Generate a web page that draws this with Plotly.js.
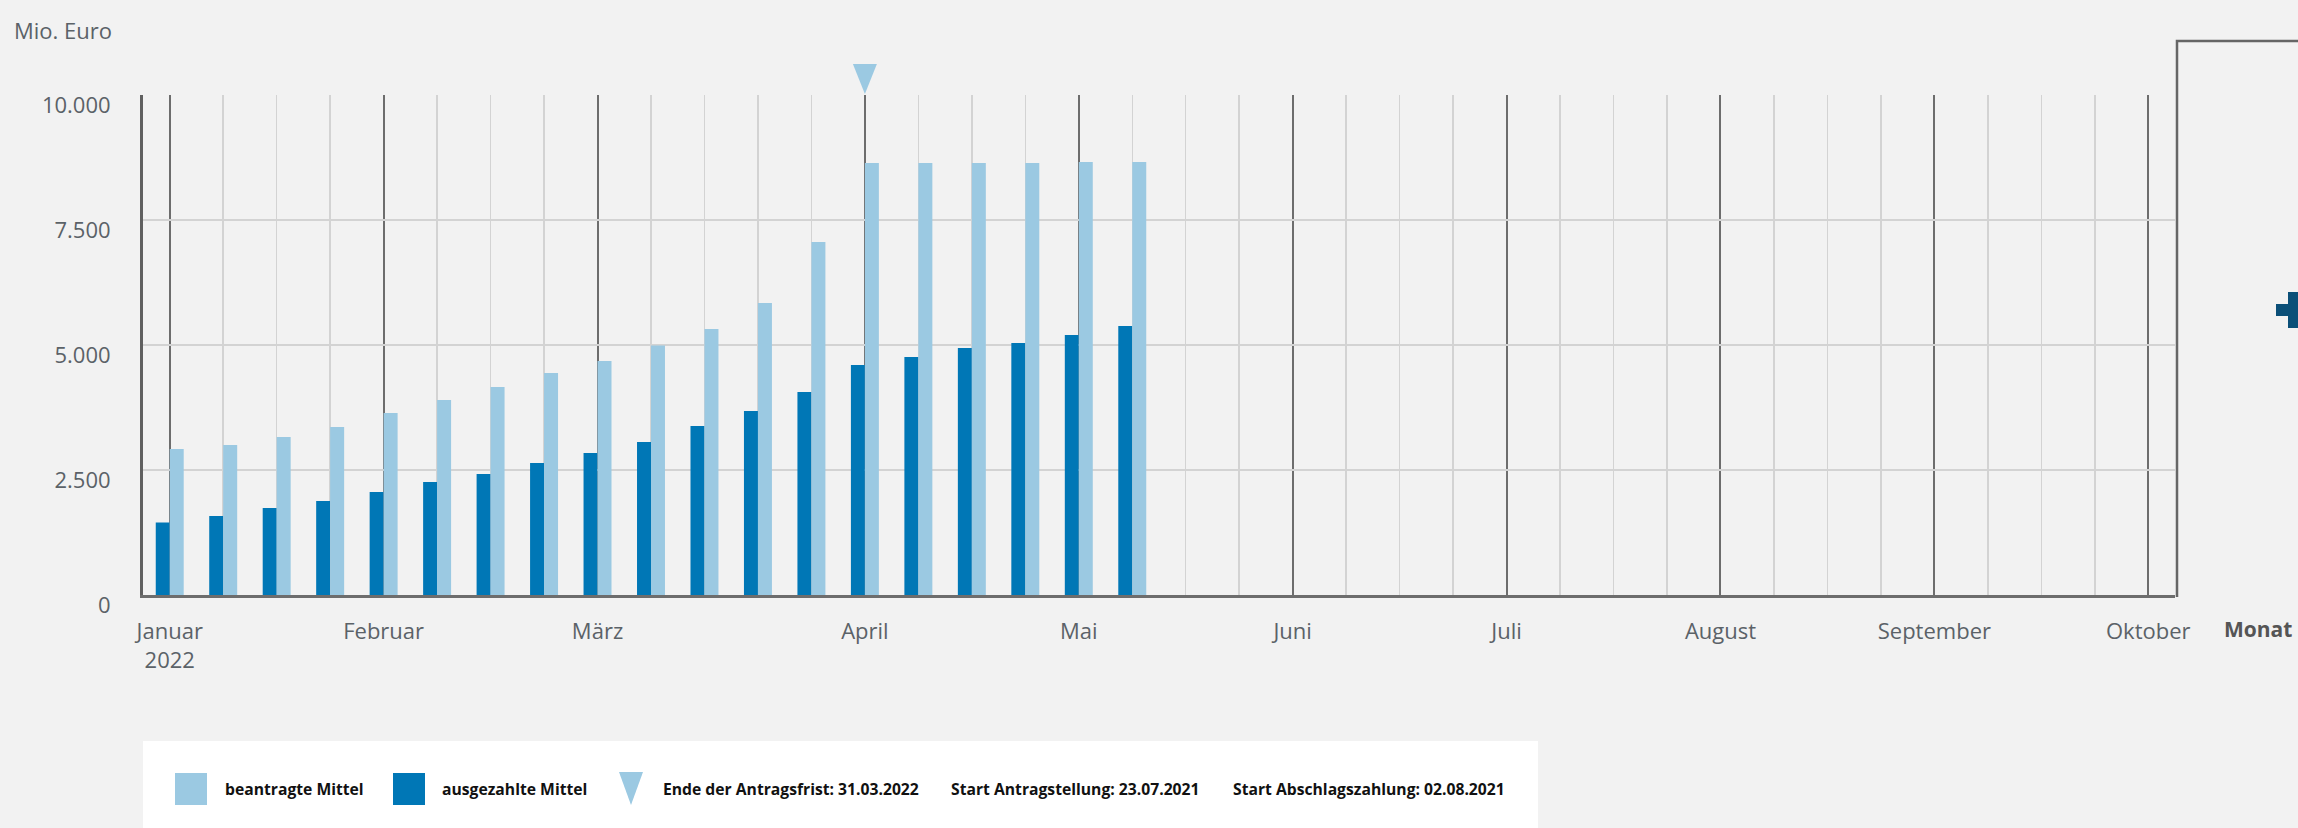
<!DOCTYPE html>
<html>
<head>
<meta charset="utf-8">
<script src="https://cdn.plot.ly/plotly-3.0.1.min.js"></script>
<style>
html,body{margin:0;padding:0;background:#f2f2f2;}
#chart{width:2298px;height:828px;}
</style>
</head>
<body>
<div id="chart"></div>
<script>
// ---- data ----
// week index (0 = first week of January 2022), one bar pair per week
const weeks = [0,1,2,3,4,5,6,7,8,9,10,11,12,13,14,15,16,17,18];
// Mio. Euro
const ausgezahlt = [1450,1580,1740,1880,2060,2260,2420,2640,2840,3060,3380,3680,4060,4600,4760,4940,5040,5200,5380];
const beantragt  = [2920,3000,3160,3360,3640,3900,4160,4440,4680,4990,5320,5840,7060,8640,8640,8640,8640,8660,8660];
// month ticks (week index where each month starts)
const monthTickWeeks = [0,4,8,13,17,21,25,29,33,37];
const monthLabels = ["Januar<br>2022","Februar","März","April","Mai","Juni","Juli","August","September","Oktober"];
const yTicks = [0,2500,5000,7500,10000];
const deadlineWeek = 13; // Ende der Antragsfrist: 31.03.2022
const legendLabels = ["beantragte Mittel","ausgezahlte Mittel","Ende der Antragsfrist: 31.03.2022","Start Antragstellung: 23.07.2021","Start Abschlagszahlung: 02.08.2021"];

// ---- geometry helpers (pixel -> paper) ----
const W = 2298, H = 828, L = 143, R = 2175, T = 95, B = 595;
const px = x => (x - L) / (R - L);
const py = y => (B - y) / (B - T);

const light = '#9bc9e2', dark = '#0077b6', grey = '#5b6268';

const traces = [
  {type:'bar', x: weeks, y: ausgezahlt, name: legendLabels[1], marker:{color: dark}, hovertemplate:'%{y:,d}<extra></extra>'},
  {type:'bar', x: weeks, y: beantragt,  name: legendLabels[0], marker:{color: light}, hovertemplate:'%{y:,d}<extra></extra>'}
];

const shapes = [
  // deadline triangle anchored at the deadline week, on top of the plot area
  {type:'path', xref:'x', yref:'paper', xsizemode:'pixel', ysizemode:'pixel',
   xanchor: deadlineWeek, yanchor: 1,
   path:'M-12,31 L12,31 L0,1 Z', fillcolor: light, line:{width:0}},
  // legend background
  {type:'rect', xref:'paper', yref:'paper', x0:px(143), x1:px(1538), y0:py(741), y1:py(845),
   fillcolor:'#ffffff', line:{width:0}},
  // legend symbols
  {type:'rect', xref:'paper', yref:'paper', x0:px(175), x1:px(207), y0:py(773), y1:py(805), fillcolor: light, line:{width:0}},
  {type:'rect', xref:'paper', yref:'paper', x0:px(393), x1:px(425), y0:py(773), y1:py(805), fillcolor: dark, line:{width:0}},
  {type:'path', xref:'paper', yref:'paper',
   path:`M${px(619)},${py(772)} L${px(643)},${py(772)} L${px(631)},${py(805)} Z`, fillcolor: light, line:{width:0}},
  // side panel frame
  {type:'path', xref:'paper', yref:'paper',
   path:`M${px(2177)},${py(597)} L${px(2177)},${py(41)} L${px(2310)},${py(41)}`,
   line:{color:'#666666', width:2.5}},
  // plus sign
  {type:'rect', xref:'paper', yref:'paper', x0:px(2276), x1:px(2312), y0:py(304), y1:py(316), fillcolor:'#0b4f78', line:{width:0}},
  {type:'rect', xref:'paper', yref:'paper', x0:px(2288), x1:px(2300), y0:py(292), y1:py(328), fillcolor:'#0b4f78', line:{width:0}}
];

const legendX = [223, 440, 661, 949, 1231];
const annotations = [
  {xref:'paper', yref:'paper', x:px(12), y:py(30), xanchor:'left', yanchor:'middle', showarrow:false,
   text:'Mio. Euro', font:{size:22, color: grey}},
  {xref:'paper', yref:'paper', x:px(2258), y:py(629), xanchor:'center', yanchor:'middle', showarrow:false,
   text:'<b>Monat</b>', font:{size:21, color:'#555555'}}
].concat(legendLabels.map((t,i) => ({
  xref:'paper', yref:'paper', x:px(legendX[i]), y:py(789), xanchor:'left', yanchor:'middle', showarrow:false,
  text:'<b>'+t+'</b>', font:{size:15.7, color:'#111111'}
})));

const layout = {
  width: W, height: H,
  paper_bgcolor:'#f2f2f2', plot_bgcolor:'#f2f2f2',
  margin:{l:L, r:W-R, t:T, b:H-B, pad:0},
  separators:',.',
  barmode:'group', bargap:0.477, bargroupgap:0,
  showlegend:false,
  font:{family:'"Open Sans", "Noto Sans", sans-serif', color: grey},
  xaxis:{
    range:[-0.5, 37.5], tickmode:'array', tickvals: monthTickWeeks, ticktext: monthLabels,
    showgrid:true, gridcolor:'#6d6d6d', gridwidth:2,
    minor:{tickmode:'linear', tick0:0, dtick:1, showgrid:true, gridcolor:'#d3d3d3', gridwidth:1.5, ticks:''},
    showline:true, linecolor:'#6d6d6d', linewidth:3, zeroline:false, ticks:'',
    tickfont:{size:22, color: grey}, ticklabelstandoff:15, fixedrange:true
  },
  yaxis:{
    range:[0, 10000], tickmode:'array', tickvals: yTicks, tickformat:',d',
    showgrid:true, gridcolor:'#d3d3d3', gridwidth:2,
    showline:true, linecolor:'#606060', linewidth:3, zeroline:false, ticks:'',
    tickfont:{size:22, color: grey}, ticklabelstandoff:25, ticklabelshift:10, fixedrange:true
  },
  shapes: shapes,
  annotations: annotations
};

Plotly.newPlot('chart', traces, layout, {displayModeBar:false, staticPlot:true});
</script>
</body>
</html>
